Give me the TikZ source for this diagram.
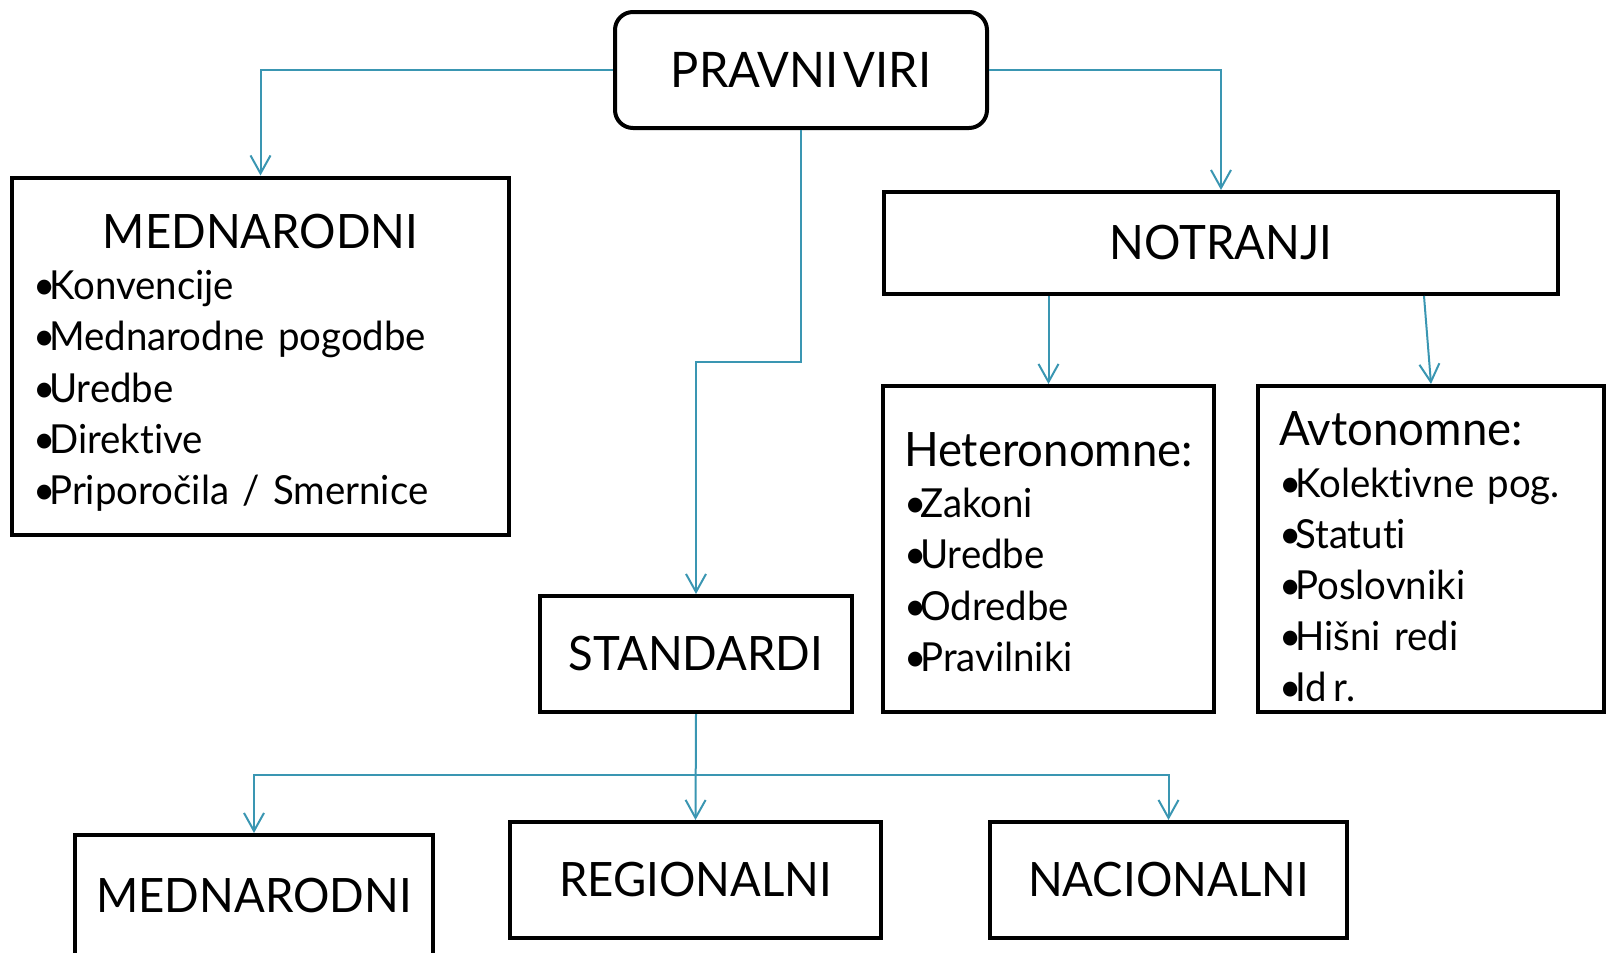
\documentclass[tikz,border=0pt]{standalone}
\usepackage{fontspec}
\setmainfont{Lato}[FakeStretch=0.96, WordSpace=0.8, Ligatures=NoCommon]
\usetikzlibrary{positioning,arrows.meta,calc}
\definecolor{linkblue}{RGB}{58,150,178}
\tikzset{box/.style={draw, line width=2pt, fill=white, inner xsep=10.5pt, inner ysep=0pt, font=\fontsize{23.7}{25.6}\selectfont},
	listbox/.style={box, align=left, font=\fontsize{20}{25.6}\selectfont},
	boxsize/.style 2 args={minimum width=#1*0.5pt, minimum height=#2*0.5pt},
	link/.style={draw=linkblue, line width=1pt, -{Straight Barb[length=9pt,width=10pt]}}
}
\newcommand{\head}[2][17pt]{{\fontsize{23.7}{25.6}\selectfont\rule{0pt}{#1}#2}}
\newcommand{\itm}{\textbullet\kern-0.15em}

\begin{document}
\begin{tikzpicture}[x=0.5pt,y=-0.5pt]
\useasboundingbox (0,0) rectangle (1607,953);

% top
\node [box, rounded corners=9pt, boxsize={372}{116}, font=\fontsize{24.5}{28}\selectfont] (pravni) at (801,70) {PRAVNI\hspace{0.1em}VIRI};

% left branch
\node [listbox, boxsize={493}{357}, text width=227.5pt] (medtop) at (260.5,356)
{\makebox[\linewidth]{\head[24pt]{MEDNARODNI}}\\
\itm Konvencije\\
\itm Mednarodne pogodbe\\
\itm Uredbe\\
\itm Direktive\\
\itm Priporočila / Smernice};

% right branch
\node [box, boxsize={674}{102}] (notranji) at (1221,243) {NOTRANJI};
\node [listbox, boxsize={327}{326}, text width=144.5pt] (hetero) at (1048.5,549)
{\head[20pt]{Heteronomne:}\\
\itm Zakoni\\
\itm Uredbe\\
\itm Odredbe\\
\itm Pravilniki};
\node [listbox, boxsize={342}{326}, text width=152pt] (avto) at (1431,549)
{\head[25pt]{Avtonomne:}\\
\itm Kolektivne pog.\\
\itm Statuti\\
\itm Poslovniki\\
\itm Hišni redi\\
\itm Id\,r.};

% standards
\node [box, boxsize={312}{116}] (standardi) at (696,654) {STANDARDI};
\node [box, boxsize={356}{120}] (medbot) at (254,895) {MEDNARODNI};
\node [box, boxsize={371}{116}] (regional) at (695.5,880) {REGIONALNI};
\node [box, boxsize={357}{116}] (nacional) at (1168.5,880) {NACIONALNI};

\coordinate (bend) at (696,362);
\coordinate (split) at (696,775);

%Lines
\draw [link] (pravni.west) -| (medtop.north);
\draw [link] (pravni.east) -| (notranji.north);
\draw [link] (pravni.south) |- (bend) -- (standardi.north);
\draw [link] (hetero.north |- notranji.south) -- (hetero.north);
\draw [link] ([xshift=101.5pt]notranji.south) -- (avto.north);
\draw [link] (standardi.south) -- (regional.north);
\draw [link] (split) -| (medbot.north);
\draw [link] (split) -| (nacional.north);
\end{tikzpicture}
\end{document}
